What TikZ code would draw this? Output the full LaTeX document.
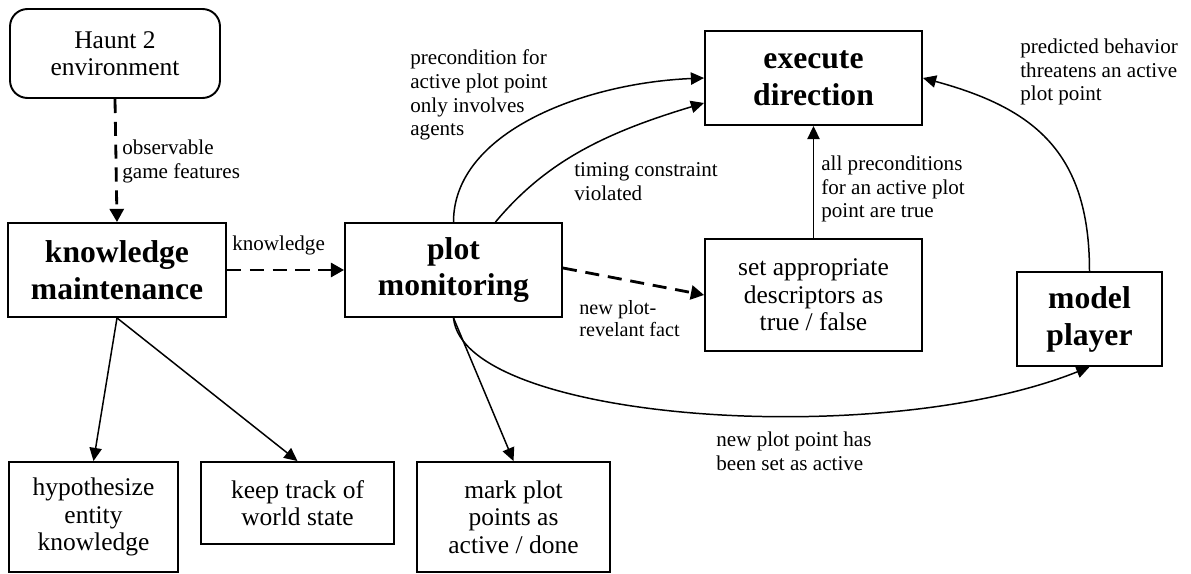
\documentclass[tikz,border=0pt]{standalone}
\usepackage{fontspec}
\setmainfont{Liberation Serif}
\usepackage{tikz}
\usetikzlibrary{arrows.meta}
\tikzset{
  task/.style={draw, line width=1.1pt, align=center, inner sep=2pt,
               font=\fontsize{14.5}{15.6}\selectfont},
  core/.style={draw, line width=1.1pt, align=center, inner sep=2pt,
               font=\fontsize{18}{21}\selectfont\bfseries,
               minimum height=1.88cm},
  env/.style={task, rounded corners=0.35cm},
  lbl/.style={align=left, inner sep=0pt, anchor=west,
              font=\fontsize{12}{13.6}\selectfont},
  flow/.style={-{Triangle[length=7.5pt,width=7pt]}, line width=0.85pt},
  feed/.style={-{Triangle[length=7.5pt,width=8pt]}, line width=1.6pt,
               dash pattern=on 8pt off 5pt},
}
\begin{document}
\begin{tikzpicture}[x=0.02cm, y=-0.02cm]
  \useasboundingbox (0,0) rectangle (1191,574);

  % main components
  \node[env, minimum width=4.2cm, minimum height=1.78cm] (haunt) at (115,53.5) {Haunt 2\\environment};
  \node[core, minimum width=4.36cm] (km) at (117,270) {knowledge\\maintenance};
  \node[core, minimum width=4.34cm] (pm) at (453.5,270) {plot\\monitoring};
  \node[core, minimum width=4.34cm] (exec) at (813.5,78) {execute\\direction};
  \node[core, minimum width=2.9cm] (model) at (1089.5,319) {model\\player};
  \node[task, minimum width=4.34cm, minimum height=2.24cm] (setd) at (813.5,295)
    {set appropriate\\descriptors as\\true / false};

  % sub-tasks
  \node[task, minimum width=3.38cm, minimum height=2.2cm] (hypo) at (93.5,517)
    {hypothesize\\entity\\knowledge};
  \node[task, minimum width=3.86cm, minimum height=1.64cm] (keep) at (297.5,503)
    {keep track of\\world state};
  \node[task, minimum width=3.86cm, minimum height=2.2cm] (mark) at (513.5,517)
    {mark plot\\points as\\active / done};

  % data flow
  \draw[feed] (haunt.south) -- (km.north);
  \draw[feed] (km.east) -- (pm.west);
  \draw[feed] ([yshift=0.04cm]pm.east) -- (setd.west);
  \draw[flow] (setd.north) -- (exec.south);
  \draw[flow] (pm.north) .. controls +(0,-90) and +(-120,5) .. (exec.west);
  \draw[flow] ([xshift=0.84cm]pm.north) .. controls +(50,-60) and +(-100,30) .. ([yshift=-0.5cm]exec.west);
  \draw[flow] (model.north) .. controls +(0,-120) and +(110,30) .. (exec.east);
  \draw[flow] (pm.south) .. controls +(10,103) and +(-210,84) .. (model.south);
  \draw[flow] (pm.south) -- (mark.north);
  \draw[flow] (km.south) -- (hypo.north);
  \draw[flow] (km.south) -- (keep.north);

  % edge labels
  \node[lbl] (lObs) at (122,161.5) {observable\\game features};
  \node[lbl] (lKnow) at (232,245) {knowledge};
  \node[lbl, font=\fontsize{11.5}{12.5}\selectfont] (lFact) at (579,319) {new plot-\\revelant fact};
  \node[lbl] (lPre) at (410,95) {precondition for\\active plot point\\only involves\\agents};
  \node[lbl] (lTime) at (574,181.5) {timing constraint\\violated};
  \node[lbl] (lAll) at (821,189) {all preconditions\\for an active plot\\point are true};
  \node[lbl] (lPred) at (1020,72) {predicted behavior\\threatens an active\\plot point};
  \node[lbl] (lNew) at (716,451.5) {new plot point has\\been set as active};
\end{tikzpicture}
\end{document}
